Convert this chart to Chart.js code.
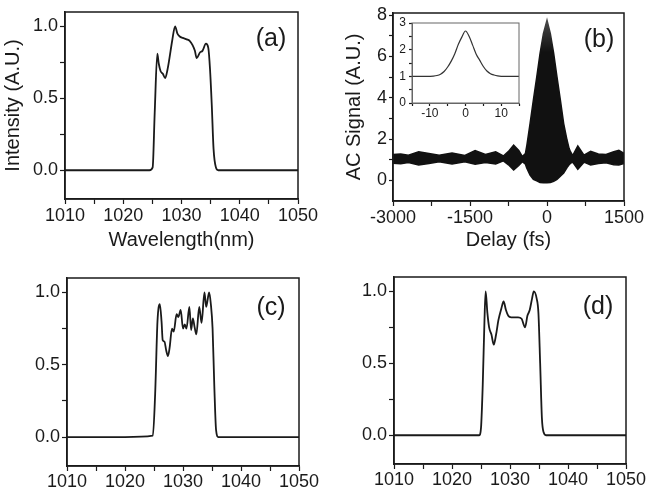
<!DOCTYPE html>
<html>
<head>
<meta charset="utf-8">
<script src="https://cdn.jsdelivr.net/npm/chart.js@4.4.1/dist/chart.umd.min.js"></script>
<style>
  html, body { margin: 0; padding: 0; background: #fff; }
  #wrap { position: relative; width: 654px; height: 495px; overflow: hidden; }
  canvas { position: absolute; }
</style>
</head>
<body>
<div id="wrap">
  <canvas id="pa" width="327" height="265" style="left:0;top:0"></canvas>
  <canvas id="pb" width="327" height="265" style="left:327px;top:0"></canvas>
  <canvas id="pc" width="327" height="245" style="left:0;top:250px"></canvas>
  <canvas id="pd" width="327" height="245" style="left:327px;top:250px"></canvas>
  <canvas id="pinset" width="140" height="110" style="left:385px;top:15px"></canvas>
</div>
<script>
// (a) spectrum
const wlA = [1010, 1020, 1024.5, 1025.05, 1025.4, 1025.85, 1026.1, 1026.4, 1026.8, 1027.2, 1027.6, 1027.9, 1028.4, 1028.9, 1029.3, 1029.7, 1030.2, 1030.9, 1031.4, 1031.9, 1032.3, 1032.6, 1033.2, 1033.6, 1034.2, 1034.6, 1034.9, 1035.2, 1035.5, 1035.9, 1036.3, 1040, 1050];
const intA = [0, 0, 0, 0.02, 0.4, 0.81, 0.74, 0.69, 0.67, 0.64, 0.7, 0.77, 0.9, 1.0, 0.95, 0.93, 0.92, 0.91, 0.9, 0.87, 0.83, 0.78, 0.82, 0.83, 0.88, 0.85, 0.7, 0.45, 0.15, 0.02, 0, 0, 0];

// (b) autocorrelation, upper / lower envelope of the fringes
const delayB = [-3000, -2850, -2700, -2500, -2300, -2100, -1850, -1600, -1400, -1200, -1000, -850, -750, -650, -550, -480, -420, -395, -330, -265, -200, -135, -70, 0, 65, 130, 195, 260, 325, 390, 430, 455, 500, 600, 720, 850, 1000, 1150, 1300, 1400, 1500];
const upperB = [1.25, 1.28, 1.22, 1.38, 1.3, 1.22, 1.32, 1.2, 1.44, 1.25, 1.38, 1.18, 1.4, 1.7, 1.45, 1.15, 1.3, 1.65, 2.75, 3.9, 5.0, 6.15, 7.1, 7.75, 7.1, 6.15, 5.0, 3.9, 2.75, 1.95, 1.55, 1.4, 1.2, 1.66, 1.22, 1.4, 1.28, 1.25, 1.38, 1.45, 1.3];
const lowerB = [0.83, 0.8, 0.86, 0.74, 0.82, 0.9, 0.79, 0.9, 0.78, 0.86, 0.79, 0.94, 0.75, 0.5, 0.72, 0.9, 0.78, 0.6, 0.25, 0.05, -0.02, -0.1, -0.12, -0.12, -0.1, -0.05, 0.05, 0.2, 0.35, 0.62, 0.75, 0.82, 0.88, 0.53, 0.88, 0.74, 0.82, 0.85, 0.76, 0.74, 0.82];

// (b) inset
const delayIn = [-15, -11, -9, -8, -7, -6, -5, -4, -3, -2, -1, 0, 1, 2, 3, 4, 5, 6, 7, 8, 9, 11, 15];
const acIn = [1.0, 1.0, 1.01, 1.03, 1.08, 1.18, 1.35, 1.57, 1.85, 2.2, 2.48, 2.7, 2.5, 2.17, 1.83, 1.6, 1.37, 1.2, 1.1, 1.05, 1.02, 1.0, 1.0];

// (c) spectrum
const wlC = [1010, 1020, 1024.8, 1025.2, 1025.6, 1026.0, 1026.3, 1026.5, 1026.8, 1027.1, 1027.4, 1027.7, 1028.1, 1028.4, 1028.9, 1029.2, 1029.6, 1030.0, 1030.3, 1030.6, 1031.1, 1031.4, 1031.7, 1032.0, 1032.3, 1032.8, 1033.2, 1033.7, 1034.0, 1034.5, 1034.8, 1035.1, 1035.4, 1035.7, 1036.1, 1040, 1050];
const intC = [0, 0, 0.01, 0.3, 0.8, 0.92, 0.8, 0.67, 0.66, 0.6, 0.56, 0.62, 0.75, 0.73, 0.85, 0.83, 0.88, 0.75, 0.78, 0.75, 0.9, 0.74, 0.82, 0.76, 0.71, 0.9, 0.79, 1.0, 0.9, 1.0, 0.92, 0.75, 0.35, 0.05, 0, 0, 0];

// (d) spectrum
const wlD = [1010, 1020, 1024.7, 1025.0, 1025.3, 1025.6, 1025.8, 1026.1, 1026.4, 1026.8, 1027.2, 1027.6, 1028.0, 1028.5, 1028.9, 1029.3, 1029.7, 1030.2, 1030.6, 1031.0, 1031.4, 1032.0, 1032.6, 1033.0, 1033.4, 1033.8, 1034.1, 1034.6, 1034.9, 1035.2, 1035.5, 1035.8, 1036.2, 1040, 1050];
const intD = [0, 0, 0, 0.05, 0.35, 0.8, 1.0, 0.85, 0.75, 0.7, 0.63, 0.7, 0.8, 0.88, 0.93, 0.87, 0.83, 0.82, 0.82, 0.82, 0.82, 0.81, 0.75, 0.83, 0.87, 0.95, 1.0, 0.95, 0.85, 0.5, 0.12, 0.02, 0, 0, 0];

// tick positions (major labelled, minor unlabelled)
const wlTicks = [1010, 1015, 1020, 1025, 1030, 1035, 1040, 1045, 1050];
const wlMajor = [1010, 1020, 1030, 1040, 1050];
const intTicks = [0, 0.25, 0.5, 0.75, 1.0];
const intMajor = [0, 0.5, 1.0];
const delayTicks = [-3000, -2250, -1500, -750, 0, 750, 1500];
const delayMajor = [-3000, -1500, 0, 1500];
const acTicks = [1, 2, 3, 4, 5, 6, 7, 8, 0];
const acMajor = [0, 2, 4, 6, 8];
const inXTicks = [-15, -10, -5, 0, 5, 10, 15];
const inXMajor = [-10, 0, 10];
const inYTicks = [0, 0.5, 1, 1.5, 2, 2.5, 3];
const inYMajor = [0, 1, 2, 3];

Chart.defaults.font.family = '"Liberation Sans", Arial, sans-serif';
Chart.defaults.color = '#1a1a1a';

const INK = '#1a1a1a';

// box around the plot area + panel letter
const frame = {
  id: 'frame',
  afterDraw(chart, args, opts) {
    const { ctx, chartArea: a } = chart;
    ctx.save();
    ctx.strokeStyle = opts.color || INK;
    ctx.lineWidth = opts.width || 1.5;
    ctx.strokeRect(a.left, a.top, a.right - a.left, a.bottom - a.top);
    if (opts.label) {
      ctx.fillStyle = INK;
      ctx.font = '25px "Liberation Sans", Arial, sans-serif';
      ctx.textAlign = 'center';
      ctx.textBaseline = 'middle';
      ctx.fillText(opts.label, a.right - opts.dx, a.top + opts.dy);
    }
    ctx.restore();
  }
};

function pts(xs, ys) {
  return xs.map((x, i) => ({ x: x, y: ys[i] }));
}

function axis(o) {
  const horiz = o.pos === 'bottom';
  return {
    type: 'linear',
    position: o.pos,
    min: o.min,
    max: o.max,
    afterBuildTicks: s => { s.ticks = o.ticks.map(v => ({ value: v })); },
    afterFit: s => {
      if (horiz) s.height = o.size; else s.width = o.size;
      s.paddingLeft = s.paddingRight = s.paddingTop = s.paddingBottom = 0;
    },
    grid: {
      drawOnChartArea: false,
      drawTicks: true,
      tickLength: o.tickLen || 5,
      tickColor: INK,
      tickWidth: 1.2
    },
    border: { display: true, color: INK, width: 1.5 },
    ticks: {
      autoSkip: false,
      maxRotation: 0,
      padding: o.pad == null ? 1 : o.pad,
      color: INK,
      font: { size: o.font || 18 },
      callback: v => o.major.includes(v) ? o.fmt(v) : ''
    },
    title: o.title ? {
      display: true,
      text: o.title,
      color: INK,
      font: { size: 20 },
      padding: o.titlePad
    } : { display: false }
  };
}

function baseOptions(pad, frameOpts, scales) {
  return {
    responsive: false,
    animation: false,
    devicePixelRatio: 1,
    layout: { padding: pad },
    plugins: {
      legend: { display: false },
      tooltip: { enabled: false },
      frame: frameOpts
    },
    elements: { point: { radius: 0 } },
    scales: scales
  };
}

function spectrumChart(id, xs, ys, lay, label, titles) {
  new Chart(document.getElementById(id), {
    type: 'line',
    data: {
      datasets: [{
        data: pts(xs, ys),
        borderColor: INK,
        borderWidth: 1.8,
        cubicInterpolationMode: 'monotone',
        fill: false
      }]
    },
    options: baseOptions(
      { left: 0, top: lay.top, right: lay.right, bottom: 0 },
      { label: label, dx: lay.dx, dy: lay.dy },
      {
        x: axis({ pos: 'bottom', min: 1010, max: 1050, ticks: wlTicks, major: wlMajor,
          fmt: v => String(v), size: lay.xh, pad: lay.xpad,
          title: titles ? 'Wavelength(nm)' : null, titlePad: { bottom: 13, top: 0 } }),
        y: axis({ pos: 'left', min: -0.2, max: 1.1, ticks: intTicks, major: intMajor,
          fmt: v => v.toFixed(1), size: lay.yw, pad: 2,
          title: titles ? 'Intensity (A.U.)' : null, titlePad: { top: 1, bottom: 0 } })
      }
    ),
    plugins: [frame]
  });
}

spectrumChart('pa', wlA, intA, { top: 12, right: 29, xh: 66, yw: 65, xpad: 1, dx: 27, dy: 27 }, '(a)', true);
spectrumChart('pc', wlC, intC, { top: 28, right: 28, xh: 29, yw: 67, xpad: 0, dx: 28, dy: 30 }, '(c)', false);
spectrumChart('pd', wlD, intD, { top: 27, right: 28, xh: 31, yw: 67, xpad: 0, dx: 28, dy: 30 }, '(d)', false);

// (b) main autocorrelation trace; the top of the peak is a little grey
function bandFill(ctx) {
  const ch = ctx.chart;
  if (!ch.chartArea) return '#111';
  const y = ch.scales.y;
  const g = ch.ctx.createLinearGradient(0, y.getPixelForValue(7.8), 0, y.getPixelForValue(6.2));
  g.addColorStop(0, '#4a4a4a');
  g.addColorStop(1, '#111');
  return g;
}

new Chart(document.getElementById('pb'), {
  type: 'line',
  data: {
    datasets: [
      {
        data: pts(delayB, lowerB),
        borderColor: '#111',
        borderWidth: 1.5,
        fill: false
      },
      {
        data: pts(delayB, upperB),
        borderColor: bandFill,
        backgroundColor: bandFill,
        borderWidth: 1.5,
        fill: '-1'
      }
    ]
  },
  options: baseOptions(
    { left: 0, top: 13, right: 30, bottom: 0 },
    { label: '(b)', dx: 25, dy: 27 },
    {
      x: axis({ pos: 'bottom', min: -3000, max: 1500, ticks: delayTicks, major: delayMajor,
        fmt: v => String(v), size: 64, pad: 1,
        title: 'Delay (fs)', titlePad: { bottom: 13, top: 0 } }),
      y: axis({ pos: 'left', min: -1, max: 8.1, ticks: acTicks, major: acMajor,
        fmt: v => String(v), size: 66, pad: 2, tickLen: 4,
        title: 'AC Signal (A.U.)', titlePad: { top: 15, bottom: 0 } })
    }
  ),
  plugins: [frame]
});

// (b) inset
new Chart(document.getElementById('pinset'), {
  type: 'line',
  data: {
    datasets: [{
      data: pts(delayIn, acIn),
      borderColor: '#333',
      borderWidth: 1.2,
      cubicInterpolationMode: 'monotone',
      fill: false
    }]
  },
  options: baseOptions(
    { left: 0, top: 8, right: 6, bottom: 0 },
    { color: '#666', width: 1 },
    {
      x: Object.assign(axis({ pos: 'bottom', min: -15, max: 15, ticks: inXTicks, major: inXMajor,
        fmt: v => String(v), size: 22, pad: 0, font: 12, tickLen: 3 }),
        { border: { display: true, color: '#666', width: 1 } }),
      y: Object.assign(axis({ pos: 'left', min: 0, max: 3, ticks: inYTicks, major: inYMajor,
        fmt: v => String(v), size: 27, pad: 3, font: 12, tickLen: 3 }),
        { border: { display: true, color: '#666', width: 1 } })
    }
  ),
  plugins: [frame]
});
</script>
</body>
</html>
